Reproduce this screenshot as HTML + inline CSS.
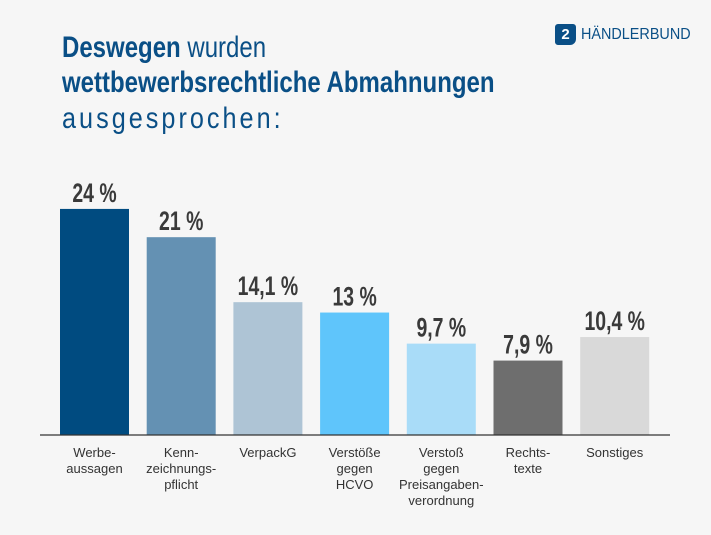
<!DOCTYPE html>
<html><head><meta charset="utf-8"><style>
body{margin:0;background:#f6f6f6;}
#wrap{position:relative;width:711px;height:535px;background:#f6f6f6;overflow:hidden;font-family:"Liberation Sans",sans-serif;}
.t{position:absolute;left:62px;font-family:"Liberation Sans",sans-serif;font-size:30px;color:#0a4f86;white-space:nowrap;line-height:34px;transform:scaleX(0.8);transform-origin:0 0;}
</style></head><body>
<div id="wrap">
<div class="t" style="top:31px"><b>Deswegen</b> wurden</div>
<div class="t" style="top:66px"><b>wettbewerbsrechtliche Abmahnungen</b></div>
<div class="t" style="top:102px;letter-spacing:3.6px;transform:scaleX(0.84)">ausgesprochen:</div>
<div style="position:absolute;left:555px;top:24px;display:flex;align-items:center">
<div style="width:21px;height:21px;background:#0a4f86;border-radius:3px 3px 6px 3px;color:#fff;font-size:15px;font-weight:bold;text-align:center;line-height:21px">2</div>
<span style="margin-left:5px;font-size:16px;color:#0a4f86;display:inline-block;transform:scaleX(0.9);transform-origin:0 50%">HÄNDLERBUND</span></div>
<svg id="c" width="711" height="535" style="position:absolute;left:0;top:0"></svg>
</div>
<script>
const categories=[["Werbe-","aussagen"],["Kenn-","zeichnungs-","pflicht"],["VerpackG"],["Verstöße","gegen","HCVO"],["Verstoß","gegen","Preisangaben-","verordnung"],["Rechts-","texte"],["Sonstiges"]];
const values=[24,21,14.1,13,9.7,7.9,10.4];
const valueLabels=["24 %","21 %","14,1 %","13 %","9,7 %","7,9 %","10,4 %"];
const colors=["#004b80","#6491b3","#aec4d5","#5fc5fb","#a9dcf8","#6e6e6e","#d9d9d9"];
const svg=document.getElementById('c');const NS="http://www.w3.org/2000/svg";
const base=435,scale=9.42,x0=60,step=86.7,bw=69;
const y=v=>base-v*scale;
function mk(t,a){const e=document.createElementNS(NS,t);for(const k in a)e.setAttribute(k,a[k]);svg.appendChild(e);return e;}
values.forEach((v,i)=>{
 const x=x0+i*step;
 const r=mk('rect',{x:x,y:y(v),width:bw,height:base-y(v),fill:colors[i]});
 
 
 const t=mk('text',{x:0,y:0,transform:'translate('+(x+bw/2)+','+(y(v)-7)+') scale(0.72,1)','text-anchor':'middle','font-size':27,'font-weight':'bold',fill:'#3a3a3a','font-family':'"Liberation Sans",sans-serif'});
 t.textContent=valueLabels[i];
 
 
 categories[i].forEach((s,j)=>{
  const c=mk('text',{x:x+bw/2,y:457+j*16,'text-anchor':'middle','font-size':13,fill:'#333','font-family':'"Liberation Sans",sans-serif'});
  c.textContent=s;
  
  
 });
});
const ax=mk('line',{x1:40,x2:670,y1:base,y2:base,stroke:'#333','stroke-width':1.2});


</script>
</body></html>
